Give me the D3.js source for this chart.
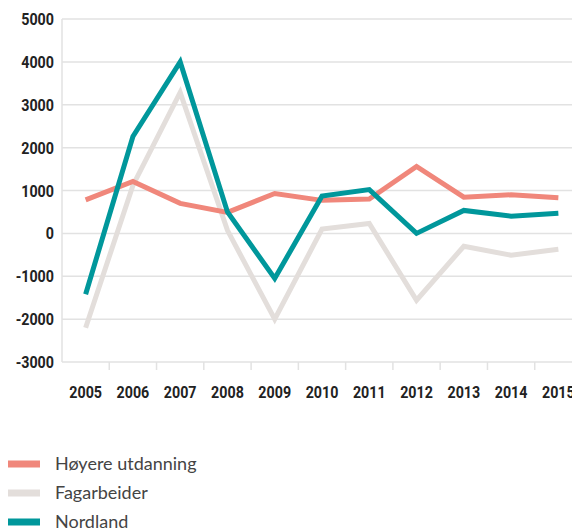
<!DOCTYPE html>
<html><head><meta charset="utf-8">
<script src="https://cdn.jsdelivr.net/npm/d3@7/dist/d3.min.js"></script>
<style>
body{margin:0;background:#fff;}
svg{display:block;}
.tick-lbl{font-family:Roboto,"DejaVu Sans",sans-serif;font-weight:bold;font-size:17px;fill:#222;}
.leg{font-family:Lato,"Open Sans",sans-serif;font-size:18px;fill:#444;}
</style></head>
<body>
<svg id="c" width="572" height="532"></svg>
<script>
const years = ["2005","2006","2007","2008","2009","2010","2011","2012","2013","2014","2015"];
const hoyere = [780, 1210, 700, 490, 930, 770, 800, 1560, 845, 900, 830];
const fagarbeider = [-2200, 1120, 3290, 70, -2000, 100, 230, -1560, -300, -510, -370];
const nordland = [-1420, 2260, 4000, 500, -1050, 870, 1020, 0, 535, 400, 470];
const yTicks = [5000, 4000, 3000, 2000, 1000, 0, -1000, -2000, -3000];
const seriesNames = ["Høyere utdanning", "Fagarbeider", "Nordland"];
const colors = ["#f0877b", "#e3dedb", "#00979b"];

const svg = d3.select("#c");
const x = d3.scaleBand().domain(years).range([62, 582]);
const y = d3.scaleLinear().domain([-3000, 5000]).range([362, 19]);
const squeeze = 0.84;

svg.append("g").selectAll("line").data(yTicks).join("line")
  .attr("x1", 62).attr("x2", 572)
  .attr("y1", d => y(d)).attr("y2", d => y(d))
  .attr("stroke", "#e2e2e2").attr("stroke-width", 1.5);
svg.append("line").attr("x1", 62).attr("x2", 62).attr("y1", y(5000)).attr("y2", y(-3000))
  .attr("stroke", "#e2e2e2").attr("stroke-width", 1.5);
svg.append("g").selectAll("line").data(years.slice(1)).join("line")
  .attr("x1", d => x(d)).attr("x2", d => x(d))
  .attr("y1", y(-3000)).attr("y2", y(-3000) + 8)
  .attr("stroke", "#e2e2e2").attr("stroke-width", 1.5);

svg.append("g").selectAll("text").data(yTicks).join("text")
  .attr("class", "tick-lbl")
  .attr("transform", d => `translate(54,${y(d)}) scale(${squeeze},1)`)
  .attr("dy", "0.36em").attr("text-anchor", "end").text(d => d);
svg.append("g").selectAll("text").data(years).join("text")
  .attr("class", "tick-lbl")
  .attr("transform", d => `translate(${x(d) + x.bandwidth() / 2},398) scale(${squeeze},1)`)
  .attr("text-anchor", "middle").text(d => d);

const line = d3.line().x((d, i) => x(years[i]) + x.bandwidth() / 2).y(d => y(d));
const data = [fagarbeider, hoyere, nordland];
const dcol = [colors[1], colors[0], colors[2]];
data.forEach((s, k) => {
  svg.append("path").datum(s).attr("d", line).attr("fill", "none")
    .attr("stroke", dcol[k]).attr("stroke-width", 5).attr("stroke-linejoin", "miter");
});

const leg = svg.append("g").selectAll("g").data(seriesNames).join("g")
  .attr("transform", (d, i) => `translate(0,${464 + i * 29})`);
leg.append("rect").attr("x", 8).attr("y", -3.5).attr("width", 32).attr("height", 7)
  .attr("fill", (d, i) => colors[i]);
leg.append("text").attr("class", "leg").attr("x", 55).attr("y", 0).attr("dy", "0.36em").text(d => d);
</script>
</body></html>
